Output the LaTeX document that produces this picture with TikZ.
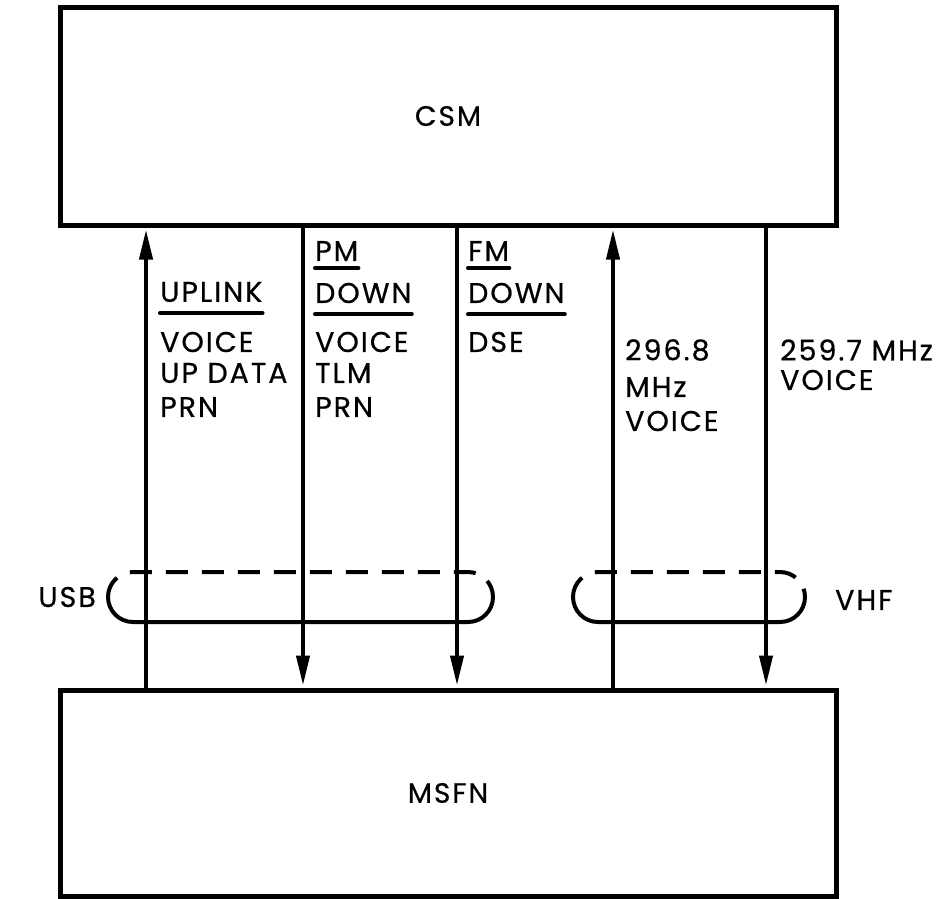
\documentclass[tikz,border=0pt]{standalone}
\usepackage{fontspec}
\setmainfont{Poppins}[LetterSpace=7, FakeBold=0.6]
\usetikzlibrary{arrows.meta,positioning}
\tikzset{
    unitbox/.style={draw, line width=5pt, minimum width=776pt, font=\fontsize{28}{32}\selectfont},
    lbl/.style={anchor=west, inner sep=0pt, font=\fontsize{28.5}{32}\selectfont},
    uline/.style={line width=4pt, line cap=round},
    sig/.style={line width=4pt, -{Triangle[length=30pt,width=13pt]}, shorten >=2pt},
    ringdash/.style={line width=4pt, dash pattern=on 22pt off 14pt, rounded corners=25pt},
    ringsolid/.style={line width=4pt, rounded corners=25pt}
}
\begin{document}
\begin{tikzpicture}[x=1pt, y=-1pt]
    \useasboundingbox (0,0) rectangle (936,898);

    % --- Stations ---
    \node[unitbox, minimum height=218pt] (csm) at (448,116) {CSM};
    \node[unitbox, minimum height=206pt] (msfn) at (448,793) {MSFN};

    % Link positions
    \coordinate (c1) at (146,450);
    \coordinate (c2) at (303,450);
    \coordinate (c3) at (457,450);
    \coordinate (c4) at (613,450);
    \coordinate (c5) at (766,450);

    % --- Links ---
    \draw[sig] (msfn.north -| c1) -- (csm.south -| c1);
    \draw[sig] (csm.south -| c2) -- (msfn.north -| c2);
    \draw[sig] (csm.south -| c3) -- (msfn.north -| c3);
    \draw[sig] (msfn.north -| c4) -- (csm.south -| c4);
    \draw[sig] (csm.south -| c5) -- (msfn.north -| c5);

    % Uplink
    \node[lbl] (uplink) at (160,292) {UPLINK};
    \draw[uline] ([yshift=-11pt]uplink.south west) -- ([yshift=-11pt]uplink.south east);
    \node[lbl] (upvoice) at (160,342) {VOICE};
    \node[lbl] (updata) at (160,373) {UP DATA};
    \node[lbl] (upprn) at (160,407) {PRN};

    % PM down
    \node[lbl] (pm) at (315,251) {PM};
    \draw[uline] ([yshift=-7pt]pm.south west) -- ([yshift=-7pt]pm.south east);
    \node[lbl] (pmdown) at (315,293) {DOWN};
    \draw[uline] ([yshift=-11pt]pmdown.south west) -- ([yshift=-11pt]pmdown.south east);
    \node[lbl] (pmvoice) at (315,342) {VOICE};
    \node[lbl] (pmtlm) at (315,373) {TLM};
    \node[lbl] (pmprn) at (315,407) {PRN};

    % FM down
    \node[lbl] (fm) at (468,251) {FM};
    \draw[uline] ([yshift=-7pt]fm.south west) -- ([yshift=-7pt]fm.south east);
    \node[lbl] (fmdown) at (468,293) {DOWN};
    \draw[uline] ([yshift=-11pt]fmdown.south west) -- ([yshift=-11pt]fmdown.south east);
    \node[lbl] (fmdse) at (468,342) {DSE};

    % VHF links
    \node[lbl] (vhfup) at (625,350) {296.8};
    \node[lbl] (vhfupmhz) at (625,387) {MHz};
    \node[lbl] (vhfupvoice) at (625,421) {VOICE};
    \node[lbl] (vhfdown) at (780,350) {259.7 MHz};
    \node[lbl] (vhfdownvoice) at (780,380) {VOICE};

    % --- Band groupings ---
    \draw[ringdash] (108,597) -- (108,572) -- (493,572) -- (493,597);
    \draw[ringsolid] (108,597) -- (108,622) -- (493,622) -- (493,597);
    \node[lbl, anchor=east] (usb) at (96,597) {USB};

    \draw[ringdash] (573,597) -- (573,572) -- (805,572) -- (805,597);
    \draw[ringsolid] (573,597) -- (573,622) -- (805,622) -- (805,597);
    \node[lbl] (vhf) at (835,600) {VHF};
\end{tikzpicture}
\end{document}
